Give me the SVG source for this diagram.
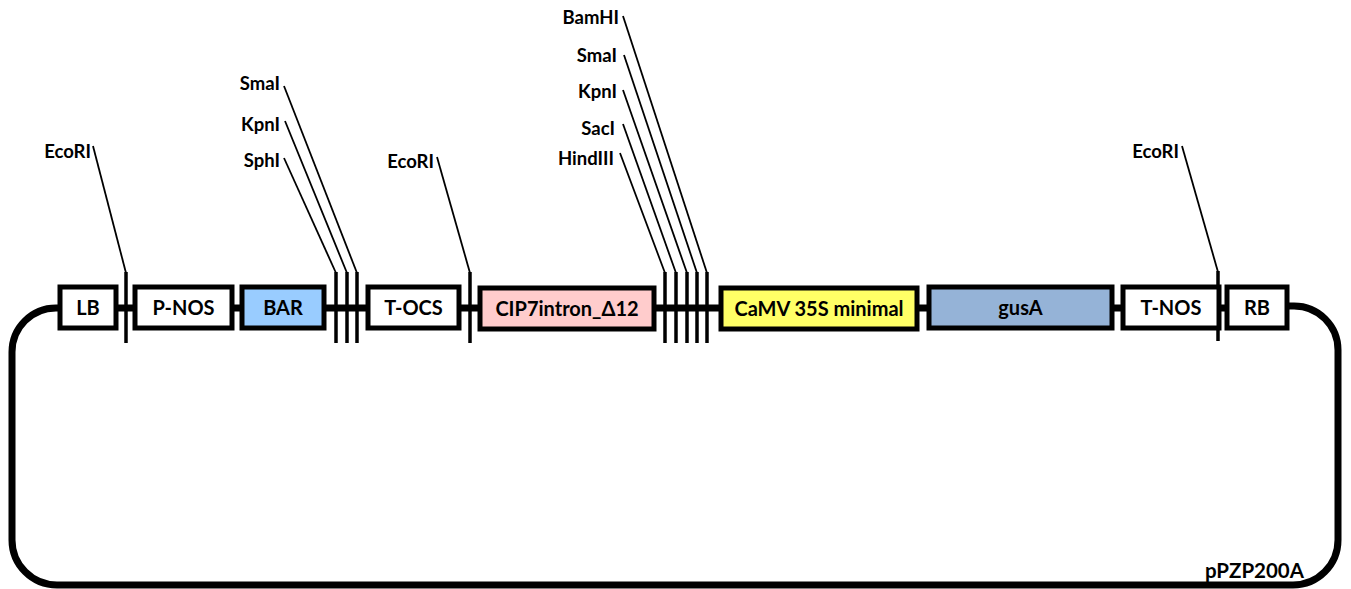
<svg xmlns="http://www.w3.org/2000/svg" width="1351" height="589" viewBox="0 0 1351 589">
<style>
.box{stroke:#000;stroke-width:5}
.bt{font-family:Lato,"Liberation Sans",sans-serif;font-weight:bold;font-size:20px;text-anchor:middle;fill:#000}
.lt{font-family:Lato,"Liberation Sans",sans-serif;font-weight:bold;font-size:18.5px;text-anchor:end;fill:#000}
.cut{stroke:#000;stroke-width:3.5}
.lead{stroke:#000;stroke-width:1.8;fill:none}
</style>
<rect width="1351" height="589" fill="#fff"/>
<g id="connectors">
<path d="M59,308 H56 A44,44 0 0 0 12,352 V540 A45,45 0 0 0 57,585 H1293 A45,45 0 0 0 1338,540 V350 A44,44 0 0 0 1294,306 H1288" fill="none" stroke="#000" stroke-width="7"/>
<line x1="116" y1="308" x2="1225" y2="308" stroke="#000" stroke-width="7"/>
</g>
<g id="cuts">
<line class="cut" x1="126" y1="272" x2="126" y2="343"/>
<line class="lead" x1="93" y1="146" x2="126" y2="273"/>
<line class="cut" x1="336" y1="272" x2="336" y2="343"/>
<line class="lead" x1="284" y1="158" x2="336" y2="273"/>
<line class="cut" x1="347" y1="272" x2="347" y2="343"/>
<line class="lead" x1="285" y1="121" x2="347" y2="273"/>
<line class="cut" x1="357" y1="272" x2="357" y2="343"/>
<line class="lead" x1="284" y1="86" x2="357" y2="273"/>
<line class="cut" x1="470" y1="272" x2="470" y2="343"/>
<line class="lead" x1="437" y1="157" x2="470" y2="273"/>
<line class="cut" x1="665" y1="272" x2="665" y2="343"/>
<line class="lead" x1="620" y1="153" x2="665" y2="273"/>
<line class="cut" x1="676" y1="272" x2="676" y2="343"/>
<line class="lead" x1="623" y1="124" x2="676" y2="273"/>
<line class="cut" x1="687" y1="272" x2="687" y2="343"/>
<line class="lead" x1="623" y1="90" x2="687" y2="273"/>
<line class="cut" x1="697" y1="272" x2="697" y2="343"/>
<line class="lead" x1="624" y1="55" x2="697" y2="273"/>
<line class="cut" x1="707" y1="272" x2="707" y2="343"/>
<line class="lead" x1="623" y1="16" x2="707" y2="273"/>
<line class="cut" x1="1218" y1="271" x2="1218" y2="341"/>
<line class="lead" x1="1182" y1="146" x2="1218" y2="272"/>
</g>
<g id="site-labels">
<text class="lt" x="91" y="158">EcoRI</text>
<text class="lt" x="280" y="90">SmaI</text>
<text class="lt" x="280" y="131">KpnI</text>
<text class="lt" x="280" y="167">SphI</text>
<text class="lt" x="434" y="168">EcoRI</text>
<text class="lt" x="619" y="24">BamHI</text>
<text class="lt" x="617" y="62">SmaI</text>
<text class="lt" x="617" y="98">KpnI</text>
<text class="lt" x="615" y="135">SacI</text>
<text class="lt" x="614" y="165">HindIII</text>
<text class="lt" x="1179" y="158">EcoRI</text>
</g>
<g id="LB"><rect class="box" x="60" y="287" width="56" height="41" fill="#fff"/><text class="bt" x="88" y="315">LB</text></g>
<g id="PNOS"><rect class="box" x="135" y="287" width="97" height="41" fill="#fff"/><text class="bt" x="183.5" y="315">P-NOS</text></g>
<g id="BAR"><rect class="box" x="242" y="287" width="82" height="41" fill="#99CCFF"/><text class="bt" x="283" y="315">BAR</text></g>
<g id="TOCS"><rect class="box" x="368" y="287" width="91" height="41" fill="#fff"/><text class="bt" x="413.5" y="315">T-OCS</text></g>
<g id="CIP7"><rect class="box" x="480" y="288" width="174" height="41" fill="#FFCCCC"/><text class="bt" x="567" y="316">CIP7intron_Δ12</text></g>
<g id="CaMV"><rect class="box" x="721" y="288" width="196" height="41" fill="#FFFF66"/><text class="bt" x="819" y="316">CaMV 35S minimal</text></g>
<g id="gusA"><rect class="box" x="929" y="287" width="183" height="41" fill="#95B3D7"/><text class="bt" x="1020.5" y="315">gusA</text></g>
<g id="TNOS"><rect class="box" x="1123" y="287" width="96" height="41" fill="#fff"/><text class="bt" x="1171" y="315">T-NOS</text></g>
<g id="RB"><rect class="box" x="1227" y="287" width="60" height="41" fill="#fff"/><text class="bt" x="1257" y="315">RB</text></g>
<text x="1304" y="578" font-family="Lato,'Liberation Sans',sans-serif" font-weight="bold" font-size="20.5" text-anchor="end">pPZP200A</text>
</svg>
